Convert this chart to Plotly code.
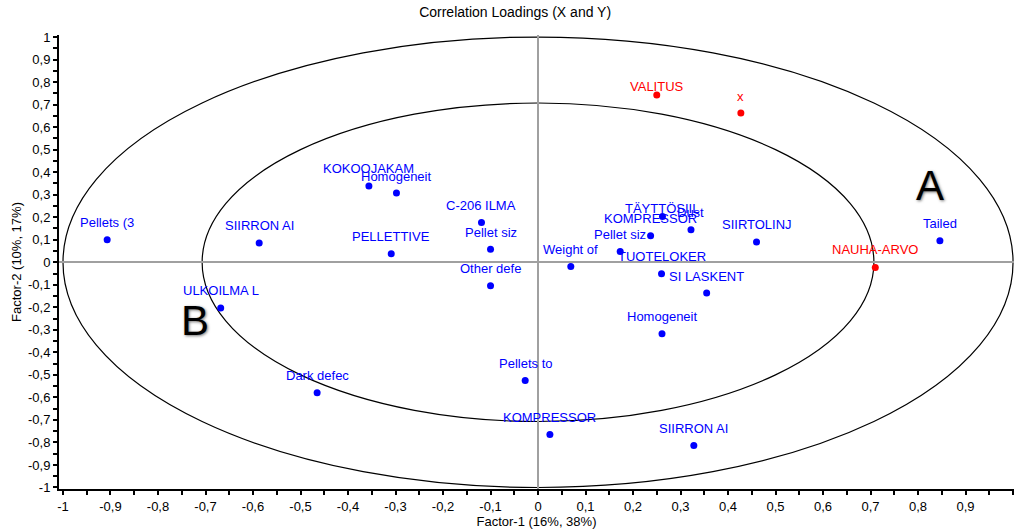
import plotly.graph_objects as go

# X-variables (blue)
x_names = ["Pellets (3", "SIIRRON AI", "PELLETTIVE", "KOKOOJAKAM", "Homogeneit",
           "C-206 ILMA", "Pellet siz", "Other defe", "Weight of", "ULKOILMA L",
           "Dark defec", "Pellets to", "KOMPRESSOR", "SIIRRON AI", "Homogeneit",
           "SI LASKENT", "TUOTELOKER", "TÄYTTÖSIIL", "Dust", "KOMPRESSOR",
           "Pellet siz", "SIIRTOLINJ", "Tailed"]
x_f1 = [-0.907, -0.587, -0.309, -0.356, -0.298, -0.119, -0.100, -0.100, 0.069, -0.668,
        -0.465, -0.027, 0.025, 0.328, 0.261, 0.355, 0.260, 0.262, 0.322, 0.237,
        0.173, 0.460, 0.846]
x_f2 = [0.100, 0.086, 0.038, 0.339, 0.307, 0.177, 0.058, -0.104, -0.019, -0.203,
        -0.579, -0.525, -0.765, -0.814, -0.317, -0.137, -0.051, 0.203, 0.144, 0.118,
        0.048, 0.090, 0.095]

# Y-variables (red)
y_names = ["VALITUS", "x", "NAUHA-ARVO"]
y_f1 = [0.250, 0.427, 0.710]
y_f2 = [0.743, 0.663, -0.023]

# region letters
region_labels = ["A", "B"]
region_f1 = [0.825, -0.722]
region_f2 = [0.339, -0.258]

# correlation circles radii (100% and 50% explained variance)
radii = [1.0, 0.7071]

tick_vals = [-1, -0.9, -0.8, -0.7, -0.6, -0.5, -0.4, -0.3, -0.2, -0.1, 0,
             0.1, 0.2, 0.3, 0.4, 0.5, 0.6, 0.7, 0.8, 0.9, 1]
tick_text = ["-1", "-0,9", "-0,8", "-0,7", "-0,6", "-0,5", "-0,4", "-0,3", "-0,2", "-0,1", "0",
             "0,1", "0,2", "0,3", "0,4", "0,5", "0,6", "0,7", "0,8", "0,9", "1"]

# label vertical offsets (px) for each label (layout only)
x_label_shift = [17] * len(x_names)
x_label_shift[17] = 8.5
y_label_shift = [8.5, 16, 17.5]

FONT = "Liberation Sans, Arial, sans-serif"
BLUE = "#0000ff"
RED = "#ff0000"

fig = go.Figure()

for r in radii:
    fig.add_shape(type="circle", xref="x", yref="y", x0=-r, x1=r, y0=-r, y1=r,
                  line=dict(color="black", width=1.2), layer="below")

fig.add_trace(go.Scatter(x=x_f1, y=x_f2, mode="markers",
                         marker=dict(color=BLUE, size=7), hoverinfo="text",
                         text=x_names, showlegend=False))
fig.add_trace(go.Scatter(x=y_f1, y=y_f2, mode="markers",
                         marker=dict(color=RED, size=7), hoverinfo="text",
                         text=y_names, showlegend=False))

annotations = []
for n, a, b, s in zip(x_names, x_f1, x_f2, x_label_shift):
    annotations.append(dict(x=a, y=b, text=n, showarrow=False, yshift=s,
                            xanchor="center", yanchor="middle",
                            font=dict(family=FONT, size=13, color=BLUE)))
for n, a, b, s in zip(y_names, y_f1, y_f2, y_label_shift):
    annotations.append(dict(x=a, y=b, text=n, showarrow=False, yshift=s,
                            xanchor="center", yanchor="middle",
                            font=dict(family=FONT, size=13, color=RED)))
for n, a, b in zip(region_labels, region_f1, region_f2):
    annotations.append(dict(x=a, y=b, text=n, showarrow=False,
                            xanchor="center", yanchor="middle",
                            font=dict(family=FONT, size=42, color="black",
                                      shadow="1px 1px 3px rgba(0,0,0,0.55)")))

axis_common = dict(
    tickmode="array", tickvals=tick_vals, ticktext=tick_text,
    ticks="outside", ticklen=4, tickwidth=1.5, tickcolor="black",
    minor=dict(dtick=0.05, tick0=0, ticks="outside", ticklen=4, tickwidth=1.5,
               tickcolor="black", showgrid=False),
    showgrid=False, zeroline=True, zerolinecolor="#a0a0a0", zerolinewidth=1.5,
    showline=True, linecolor="black", linewidth=2,
    tickfont=dict(family=FONT, size=13, color="black"),
    mirror=False,
)

fig.update_layout(
    width=1016, height=531,
    margin=dict(l=59, r=2, t=35, b=42),
    paper_bgcolor="white", plot_bgcolor="white",
    title=dict(text="Correlation Loadings (X and Y)", x=0.507, xanchor="center",
               y=0.977, yanchor="middle", yref="container",
               font=dict(family=FONT, size=14, color="black")),
    xaxis=dict(range=[-1.0084, 1.002],
               title=dict(text="Factor-1 (16%, 38%)", standoff=2,
                          font=dict(family=FONT, size=13, color="black")),
               **axis_common),
    yaxis=dict(range=[-1.0067, 1.009],
               title=dict(text="Factor-2 (10%, 17%)", standoff=3,
                          font=dict(family=FONT, size=13, color="black")),
               **axis_common),
    annotations=annotations,
    showlegend=False,
)

fig.write_html("out.html")
